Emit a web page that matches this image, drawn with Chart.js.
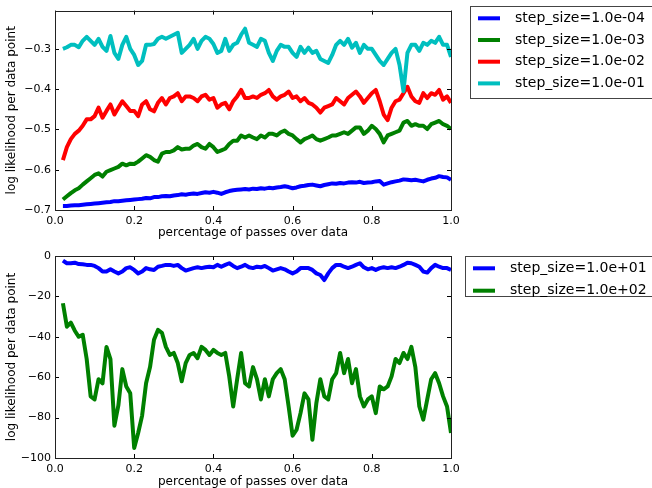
<!DOCTYPE html>
<html>
<head>
<meta charset="utf-8">
<script src="https://cdn.jsdelivr.net/npm/chart.js@4/dist/chart.umd.min.js"></script>
<style>
  body { margin: 0; background: #fff; overflow: hidden; }
  canvas { position: absolute; left: 0; }
  #topChart { top: 0; }
  #bottomChart { top: 244px; }
</style>
</head>
<body>
<canvas id="topChart" width="652" height="245"></canvas>
<canvas id="bottomChart" width="652" height="250"></canvas>
<script>
// fraction of passes over the data (shared by all series)
let passes = [
  0.02, 0.03, 0.04, 0.05, 0.06, 0.07, 0.08, 0.09, 0.10, 0.11,
  0.12, 0.13, 0.14, 0.15, 0.16, 0.17, 0.18, 0.19, 0.20, 0.21,
  0.22, 0.23, 0.24, 0.25, 0.26, 0.27, 0.28, 0.29, 0.30, 0.31,
  0.32, 0.33, 0.34, 0.35, 0.36, 0.37, 0.38, 0.39, 0.40, 0.41,
  0.42, 0.43, 0.44, 0.45, 0.46, 0.47, 0.48, 0.49, 0.50, 0.51,
  0.52, 0.53, 0.54, 0.55, 0.56, 0.57, 0.58, 0.59, 0.60, 0.61,
  0.62, 0.63, 0.64, 0.65, 0.66, 0.67, 0.68, 0.69, 0.70, 0.71,
  0.72, 0.73, 0.74, 0.75, 0.76, 0.77, 0.78, 0.79, 0.80, 0.81,
  0.82, 0.83, 0.84, 0.85, 0.86, 0.87, 0.88, 0.89, 0.90, 0.91,
  0.92, 0.93, 0.94, 0.95, 0.96, 0.97, 0.98, 0.99, 1.00
];

// top panel: small step sizes
let step1e4 = [
  -0.690, -0.690, -0.689, -0.688, -0.688, -0.687, -0.686, -0.685, -0.684, -0.683,
  -0.682, -0.681, -0.680, -0.678, -0.678, -0.677, -0.676, -0.675, -0.674, -0.673,
  -0.672, -0.670, -0.671, -0.668, -0.668, -0.666, -0.665, -0.666, -0.664, -0.663,
  -0.661, -0.662, -0.660, -0.659, -0.660, -0.658, -0.656, -0.657, -0.655, -0.657,
  -0.660, -0.656, -0.653, -0.651, -0.650, -0.649, -0.648, -0.649, -0.647, -0.648,
  -0.646, -0.647, -0.645, -0.646, -0.644, -0.643, -0.641, -0.643, -0.646, -0.644,
  -0.641, -0.640, -0.638, -0.637, -0.639, -0.641, -0.638, -0.636, -0.634, -0.635,
  -0.633, -0.634, -0.632, -0.631, -0.632, -0.630, -0.633, -0.632, -0.631, -0.629,
  -0.628, -0.637, -0.634, -0.631, -0.629, -0.627, -0.624, -0.625, -0.626, -0.625,
  -0.627, -0.629, -0.625, -0.622, -0.620, -0.616, -0.618, -0.619, -0.625
];
let step1e3 = [
  -0.674, -0.666, -0.658, -0.651, -0.646, -0.637, -0.629, -0.621, -0.613, -0.609,
  -0.617, -0.605, -0.601, -0.597, -0.593, -0.585, -0.589, -0.585, -0.586, -0.580,
  -0.572, -0.564, -0.568, -0.576, -0.580, -0.560, -0.556, -0.556, -0.552, -0.544,
  -0.550, -0.548, -0.548, -0.540, -0.536, -0.544, -0.548, -0.536, -0.544, -0.556,
  -0.552, -0.548, -0.536, -0.528, -0.528, -0.515, -0.520, -0.515, -0.520, -0.524,
  -0.515, -0.520, -0.511, -0.511, -0.515, -0.507, -0.503, -0.511, -0.515, -0.524,
  -0.532, -0.524, -0.520, -0.515, -0.524, -0.528, -0.524, -0.520, -0.515, -0.515,
  -0.511, -0.507, -0.511, -0.503, -0.495, -0.495, -0.511, -0.503, -0.491, -0.499,
  -0.511, -0.532, -0.515, -0.511, -0.507, -0.503, -0.483, -0.479, -0.491, -0.487,
  -0.491, -0.491, -0.499, -0.487, -0.483, -0.479, -0.487, -0.491, -0.499
];
let step1e2 = [
  -0.576, -0.544, -0.524, -0.511, -0.503, -0.491, -0.475, -0.475, -0.467, -0.446,
  -0.471, -0.454, -0.438, -0.463, -0.446, -0.430, -0.442, -0.454, -0.454, -0.467,
  -0.438, -0.430, -0.450, -0.455, -0.434, -0.422, -0.438, -0.422, -0.418, -0.410,
  -0.430, -0.418, -0.418, -0.422, -0.430, -0.418, -0.414, -0.426, -0.422, -0.446,
  -0.438, -0.434, -0.450, -0.430, -0.418, -0.402, -0.422, -0.422, -0.418, -0.422,
  -0.414, -0.410, -0.402, -0.418, -0.426, -0.418, -0.414, -0.406, -0.422, -0.418,
  -0.430, -0.422, -0.434, -0.438, -0.446, -0.458, -0.446, -0.442, -0.438, -0.422,
  -0.430, -0.438, -0.422, -0.414, -0.406, -0.418, -0.434, -0.422, -0.410, -0.402,
  -0.430, -0.463, -0.477, -0.446, -0.430, -0.426, -0.410, -0.394, -0.418, -0.430,
  -0.434, -0.410, -0.422, -0.410, -0.414, -0.402, -0.426, -0.418, -0.434
];
let step1e1 = [
  -0.300, -0.296, -0.290, -0.290, -0.296, -0.280, -0.270, -0.280, -0.290, -0.275,
  -0.295, -0.305, -0.268, -0.310, -0.325, -0.290, -0.270, -0.300, -0.315, -0.340,
  -0.330, -0.290, -0.290, -0.288, -0.275, -0.270, -0.275, -0.270, -0.265, -0.260,
  -0.310, -0.300, -0.290, -0.275, -0.300, -0.280, -0.270, -0.275, -0.288, -0.310,
  -0.305, -0.275, -0.305, -0.290, -0.285, -0.265, -0.250, -0.285, -0.290, -0.295,
  -0.275, -0.280, -0.310, -0.330, -0.305, -0.290, -0.295, -0.295, -0.310, -0.320,
  -0.295, -0.310, -0.297, -0.310, -0.305, -0.325, -0.330, -0.335, -0.315, -0.290,
  -0.280, -0.290, -0.275, -0.297, -0.285, -0.310, -0.290, -0.300, -0.300, -0.315,
  -0.330, -0.340, -0.325, -0.310, -0.300, -0.340, -0.405, -0.310, -0.290, -0.290,
  -0.305, -0.285, -0.290, -0.280, -0.285, -0.270, -0.290, -0.290, -0.320
];

// bottom panel: large step sizes
let step1e1b = [
  -2.3, -3.6, -3.6, -3.3, -4.0, -4.1, -4.4, -4.4, -4.9, -6.0,
  -7.7, -7.7, -6.6, -7.7, -8.6, -7.7, -6.0, -5.6, -6.9, -8.6,
  -7.7, -6.0, -6.6, -6.9, -5.3, -4.9, -4.4, -4.4, -4.9, -4.4,
  -6.0, -7.2, -6.6, -6.0, -5.6, -6.0, -5.6, -5.3, -5.6, -4.4,
  -5.3, -4.4, -3.6, -4.9, -6.0, -5.3, -4.4, -5.6, -6.0, -5.3,
  -5.6, -4.9, -6.0, -7.2, -6.6, -6.0, -6.6, -7.7, -8.6, -7.7,
  -6.0, -6.0, -6.0, -6.9, -8.6, -9.4, -11.9, -8.6, -6.0, -4.4,
  -4.4, -5.3, -6.0, -5.3, -4.4, -3.6, -5.6, -6.6, -6.0, -6.9,
  -6.0, -5.6, -6.0, -5.6, -6.0, -5.3, -4.4, -3.3, -3.6, -4.4,
  -5.3, -7.7, -8.2, -6.0, -4.4, -5.3, -6.0, -6.0, -6.9
];
let step1e2b = [
  -23.4, -35.0, -33.0, -37.0, -40.0, -39.0, -51.0, -69.5, -71.0, -61.0,
  -63.0, -45.0, -51.0, -84.0, -74.0, -56.0, -64.6, -68.0, -95.0, -87.6,
  -79.0, -63.0, -55.0, -41.5, -36.6, -38.0, -45.0, -49.0, -48.0, -53.0,
  -62.0, -53.0, -49.0, -48.0, -50.6, -45.0, -46.5, -49.0, -46.5, -48.0,
  -49.0, -48.0, -59.6, -74.5, -61.0, -48.0, -63.0, -64.6, -55.0, -61.0,
  -71.0, -61.0, -69.5, -61.0, -58.0, -56.0, -61.0, -74.5, -89.0, -86.0,
  -77.8, -68.0, -71.0, -91.0, -72.8, -61.0, -69.5, -71.0, -61.0, -58.0,
  -48.0, -58.0, -51.0, -63.0, -56.0, -69.5, -74.5, -71.0, -69.5, -77.8,
  -64.6, -66.0, -64.6, -59.6, -51.0, -53.0, -48.0, -51.0, -45.0, -55.0,
  -74.5, -81.0, -71.0, -61.0, -58.0, -63.0, -69.5, -74.5, -87.6
];

let topLabels = ["step_size=1.0e-04", "step_size=1.0e-03", "step_size=1.0e-02", "step_size=1.0e-01"];
let bottomLabels = ["step_size=1.0e+01", "step_size=1.0e+02"];
let xTicks = [0.0, 0.2, 0.4, 0.6, 0.8, 1.0];
let topYTicks = [-0.7, -0.6, -0.5, -0.4, -0.3];
let bottomYTicks = [-100, -80, -60, -40, -20, 0];

function toPoints(values){
    return values.map((v, i) => ({x: passes[i], y: v}));
}

// matplotlib style labels with a real minus sign
function fmt(v, digits){
    let s = Math.abs(v).toFixed(digits);
    return (v < 0 ? "\u2212" : "") + s;
}

// frame, inward ticks and the boxed legend
const framePlugin = {
    id: "frame",
    afterDraw(chart, args, opts){
        let ctx = chart.ctx;
        let a = chart.chartArea;
        let xs = chart.scales.x;
        let ys = chart.scales.y;
        ctx.save();
        ctx.strokeStyle = "#000";
        ctx.lineWidth = 1;
        ctx.beginPath();
        xs.ticks.forEach(t => {
            let px = Math.round(xs.getPixelForValue(t.value)) + 0.5;
            ctx.moveTo(px, a.bottom); ctx.lineTo(px, a.bottom - 4);
            ctx.moveTo(px, a.top); ctx.lineTo(px, a.top + 4);
        });
        ys.ticks.forEach(t => {
            let py = Math.round(ys.getPixelForValue(t.value)) + 0.5;
            ctx.moveTo(a.left, py); ctx.lineTo(a.left + 4, py);
            ctx.moveTo(a.right, py); ctx.lineTo(a.right - 4, py);
        });
        ctx.stroke();
        ctx.strokeStyle = "#222";
        ctx.strokeRect(Math.round(a.left) + 0.5, Math.round(a.top) + 0.5,
                       Math.round(a.right - a.left), Math.round(a.bottom - a.top));

        // legend
        let lg = opts.legend;
        ctx.strokeStyle = "#444";
        ctx.strokeRect(lg.x + 0.5, lg.y + 0.5, 300, lg.h);
        ctx.font = "14px 'DejaVu Sans'";
        ctx.textBaseline = "middle";
        ctx.textAlign = "left";
        chart.data.datasets.forEach((ds, i) => {
            let y = lg.row0 + i * lg.rowStep;
            ctx.strokeStyle = ds.borderColor;
            ctx.lineWidth = 4;
            ctx.beginPath();
            ctx.moveTo(lg.lineX, y);
            ctx.lineTo(lg.lineX + 22, y);
            ctx.stroke();
            ctx.fillStyle = "#000";
            ctx.fillText(ds.label, lg.lineX + 37, y);
        });
        ctx.restore();
    }
};

function makeDataset(label, values, color, order){
    return {
        label: label,
        data: toPoints(values),
        borderColor: color,
        backgroundColor: color,
        borderWidth: 4,
        pointRadius: 0,
        borderJoinStyle: "round",
        order: order
    };
}

function axes(yMin, yMax, yTicks, digits, xHeight){
    return {
        x: {
            type: "linear",
            min: 0, max: 1,
            afterBuildTicks: s => { s.ticks = xTicks.map(v => ({value: v})); },
            afterFit: s => { s.height = xHeight; },
            grid: {display: false, drawTicks: false},
            border: {display: false},
            ticks: {
                color: "#000",
                padding: 5,
                font: {family: "DejaVu Sans", size: 11},
                maxRotation: 0,
                callback: v => v.toFixed(1)
            },
            title: {
                display: true,
                text: "percentage of passes over data",
                color: "#000",
                font: {family: "DejaVu Sans", size: 12},
                padding: {top: 0, bottom: 4.8}
            }
        },
        y: {
            min: yMin, max: yMax,
            afterBuildTicks: s => { s.ticks = yTicks.map(v => ({value: v})); },
            afterFit: s => { s.width = 55; },
            grid: {display: false, drawTicks: false},
            border: {display: false},
            ticks: {
                color: "#000",
                padding: 4,
                font: {family: "DejaVu Sans", size: 11},
                callback: v => fmt(v, digits)
            },
            title: {
                display: true,
                text: "log likelihood per data point",
                color: "#000",
                font: {family: "DejaVu Sans", size: 12},
                padding: {top: 4.8, bottom: 0}
            }
        }
    };
}

new Chart("topChart", {
    type: "line",
    data: {
        datasets: [
            makeDataset(topLabels[0], step1e4, "#0000ff", 3),
            makeDataset(topLabels[1], step1e3, "#008000", 2),
            makeDataset(topLabels[2], step1e2, "#ff0000", 1),
            makeDataset(topLabels[3], step1e1, "#00bfbf", 0)
        ]
    },
    options: {
        responsive: false,
        animation: false,
        layout: {padding: {top: 7, right: 201, left: 0, bottom: 0}},
        scales: axes(-0.7, -0.205, topYTicks, 1, 35),
        plugins: {
            legend: {display: false},
            tooltip: {enabled: false},
            frame: {legend: {x: 470, y: 6, h: 92, lineX: 478, row0: 18.3, rowStep: 21.7}}
        }
    },
    plugins: [framePlugin]
});

new Chart("bottomChart", {
    type: "line",
    data: {
        datasets: [
            makeDataset(bottomLabels[0], step1e1b, "#0000ff", 1),
            makeDataset(bottomLabels[1], step1e2b, "#008000", 0)
        ]
    },
    options: {
        responsive: false,
        animation: false,
        layout: {padding: {top: 12, right: 201, left: 0, bottom: 0}},
        scales: axes(-100, 0, bottomYTicks, 0, 36),
        plugins: {
            legend: {display: false},
            tooltip: {enabled: false},
            frame: {legend: {x: 465, y: 12, h: 40, lineX: 473, row0: 24.3, rowStep: 22.4}}
        }
    },
    plugins: [framePlugin]
});
</script>
</body>
</html>
